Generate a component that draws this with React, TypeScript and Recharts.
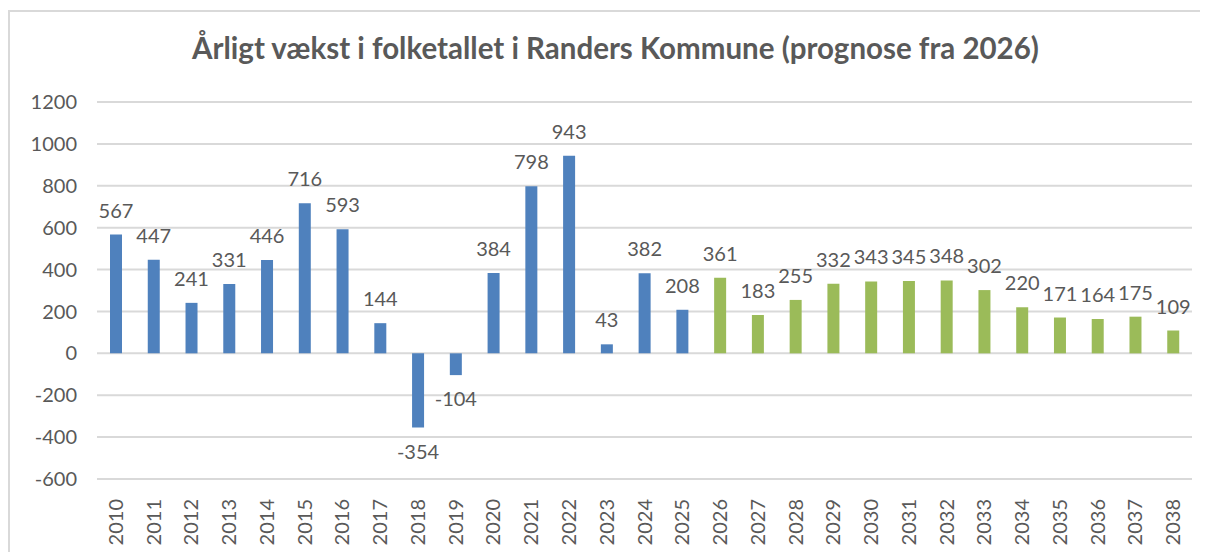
import * as React from 'react';
import { BarChart, Bar, XAxis, YAxis, CartesianGrid, Cell, LabelList } from 'recharts';

// Årlig vækst, faktisk (2010-2025) og prognose (2026-2038)
const years = [
  '2010', '2011', '2012', '2013', '2014', '2015', '2016', '2017', '2018', '2019',
  '2020', '2021', '2022', '2023', '2024', '2025', '2026', '2027', '2028', '2029',
  '2030', '2031', '2032', '2033', '2034', '2035', '2036', '2037', '2038',
];
const growth = [
  567, 447, 241, 331, 446, 716, 593, 144, -354, -104,
  384, 798, 943, 43, 382, 208, 361, 183, 255, 332,
  343, 345, 348, 302, 220, 171, 164, 175, 109,
];
const yTicks = [-600, -400, -200, 0, 200, 400, 600, 800, 1000, 1200];
const firstForecastYear = 2026;

const BLUE = '#4F81BD';
const GREEN = '#9BBB59';
const TEXT = '#595959';
const FONT = 'Lato, "Open Sans", sans-serif';

const data = years.map((y, i) => ({ year: y, value: growth[i] }));

const XTick = (props: any) => {
  const { x, y, payload } = props;
  return (
    <text
      x={0}
      y={0}
      transform={`translate(${x},${y + 12}) rotate(-90)`}
      textAnchor="end"
      dy="0.35em"
      fill={TEXT}
      fontSize={20}
      fontFamily={FONT}
    >
      {payload.value}
    </text>
  );
};

export default function App() {
  return (
    <div
      style={{
        position: 'relative',
        top: 2,
        width: 1200,
        height: 544,
        borderTop: '2px solid #D9D9D9',
        borderLeft: '2px solid #D9D9D9',
        boxSizing: 'border-box',
        overflow: 'hidden',
        fontFamily: FONT,
      }}
    >
      <div
        style={{
          position: 'absolute',
          top: 18,
          left: 0,
          width: 1198,
          paddingLeft: 13,
          boxSizing: 'border-box',
          textAlign: 'center',
          fontSize: 29.5,
          fontWeight: 700,
          color: TEXT,
          whiteSpace: 'nowrap',
        }}
      >
        Årligt vækst i folketallet i Randers Kommune (prognose fra 2026)
      </div>
      <BarChart
        width={1198}
        height={542}
        data={data}
        margin={{ top: 90, right: 16, bottom: 0, left: 0 }}
        barSize={12}
      >
        <CartesianGrid vertical={false} stroke="#D9D9D9" strokeWidth={2} />
        <XAxis
          dataKey="year"
          interval={0}
          axisLine={false}
          tickLine={false}
          height={75}
          tick={<XTick />}
        />
        <YAxis
          domain={[-600, 1200]}
          ticks={yTicks}
          interval={0}
          axisLine={false}
          tickLine={false}
          width={87}
          tickMargin={14}
          tick={{ fill: TEXT, fontSize: 20, fontFamily: FONT }}
        />
        <Bar dataKey="value" isAnimationActive={false}>
          {data.map((d) => (
            <Cell key={d.year} fill={Number(d.year) >= firstForecastYear ? GREEN : BLUE} />
          ))}
          <LabelList
            dataKey="value"
            position="top"
            offset={17}
            fill={TEXT}
            fontSize={20}
            fontFamily={FONT}
          />
        </Bar>
      </BarChart>
    </div>
  );
}
